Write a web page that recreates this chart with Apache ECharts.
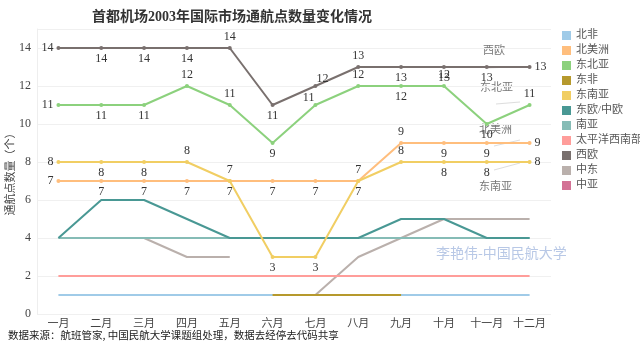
<!DOCTYPE html>
<html>
<head>
<meta charset="utf-8">
<script src="https://cdn.jsdelivr.net/npm/echarts@6/dist/echarts.min.js"></script>
<style>
  html, body { margin: 0; padding: 0; background: #fff; }
  #main { width: 640px; height: 352px; }
</style>
</head>
<body>
<div id="main"></div>
<script>
// 月份
var months = ['一月', '二月', '三月', '四月', '五月', '六月', '七月', '八月', '九月', '十月', '十一月', '十二月'];
var legendNames = ['北非', '北美洲', '东北亚', '东非', '东南亚', '东欧/中欧', '南亚', '太平洋西南部', '西欧', '中东', '中亚'];

// 各区域通航点数量
var xiou = [14, 14, 14, 14, 14, 11, 12, 13, 13, 13, 13, 13];
var dongbeiya = [11, 11, 11, 12, 11, 9, 11, 12, 12, 12, 10, 11];
var beimeizhou = [7, 7, 7, 7, 7, 7, 7, 7, 9, 9, 9, 9];
var dongnanya = [8, 8, 8, 8, 7, 3, 3, 7, 8, 8, 8, 8];
var dongou = [4, 6, 6, 5, 4, 4, 4, 4, 5, 5, 4, 4];
var nanya = [4, 4, 4, 4, 4, 4, 4, 4, 4, 4, 4, 4];
var zhongdong = [null, null, 4, 3, 3, null, 1, 3, 4, 5, 5, 5];
var dongfei = [null, null, null, null, null, 1, 1, 1, 1, null, null, null];
var beifei = [1, 1, 1, 1, 1, 1, 1, 1, 1, 1, 1, 1];
var taipingyang = [2, 2, 2, 2, 2, 2, 2, 2, 2, 2, 2, 2];
var zhongya = [];

var colors = {
  '北非': '#a0cbe8', '北美洲': '#ffbe7d', '东北亚': '#8cd17d', '东非': '#b6992d',
  '东南亚': '#f1ce63', '东欧/中欧': '#499894', '南亚': '#86bcb6', '太平洋西南部': '#ff9d9a',
  '西欧': '#79706e', '中东': '#bab0ac', '中亚': '#d37295'
};

// 数字标签的位置（样式，不是数据）
var labelPos = {
  '西欧': ['left', 'bottom', 'bottom', 'bottom', 'top', 'bottom', 'insideBottomLeft', 'top', 'bottom', 'bottom', 'bottom', 'right'],
  '东北亚': ['left', 'bottom', 'bottom', 'top', 'top', 'bottom', 'insideBottomRight', 'top', 'bottom', 'top', 'bottom', 'top'],
  '北美洲': ['left', 'bottom', 'bottom', 'bottom', 'bottom', 'bottom', 'bottom', 'top', 'top', 'bottom', 'bottom', 'right'],
  '东南亚': ['left', 'bottom', 'bottom', 'top', 'top', 'bottom', 'bottom', 'bottom', 'top', 'bottom', 'bottom', 'right']
};

function makeSeries(name, values, z) {
  var pos = labelPos[name];
  var data = values.map(function (v, i) {
    if (!pos || v == null) return v;
    return { value: v, label: { show: true, position: pos[i] } };
  });
  return {
    name: name,
    type: 'line',
    data: data,
    z: z,
    symbol: 'circle',
    symbolSize: pos ? 4 : 0,
    showSymbol: !!pos,
    connectNulls: false,
    lineStyle: { width: 2, color: colors[name] },
    itemStyle: { color: colors[name] },
    label: {
      show: false,
      fontFamily: 'Liberation Serif',
      fontSize: 12,
      color: '#333',
      distance: 3
    },
    emphasis: { disabled: true }
  };
}

var chart = echarts.init(document.getElementById('main'));

var option = {
  animation: false,
  backgroundColor: '#fff',
  color: legendNames.map(function (n) { return colors[n]; }),
  title: {
    text: '首都机场2003年国际市场通航点数量变化情况',
    left: 87,
    top: 5,
    textStyle: {
      fontFamily: 'Liberation Serif, Noto Sans CJK SC',
      fontSize: 14,
      fontWeight: 'bold',
      color: '#333'
    }
  },
  legend: {
    data: legendNames,
    orient: 'vertical',
    left: 557,
    top: 25,
    itemWidth: 9,
    itemHeight: 9,
    itemGap: 4,
    icon: 'rect',
    textStyle: { fontFamily: 'Liberation Serif, Noto Sans CJK SC', fontSize: 11, lineHeight: 11, color: '#555' }
  },
  grid: { left: 37, right: 89, top: 29, bottom: 38, containLabel: false, outerBoundsMode: 'none' },
  xAxis: {
    type: 'category',
    data: months,
    boundaryGap: true,
    axisLine: { show: false },
    axisTick: { show: false },
    axisLabel: { fontFamily: 'Liberation Serif, Noto Sans CJK SC', fontSize: 11, color: '#444', margin: 5, interval: 0 }
  },
  yAxis: {
    type: 'value',
    min: 0,
    max: 15,
    interval: 2,
    name: '通航点数量（个）',
    nameLocation: 'middle',
    nameGap: 22,
    nameMoveOverlap: false,
    nameTextStyle: { fontFamily: 'Noto Sans CJK SC', fontSize: 11, color: '#444' },
    axisLine: { show: true, lineStyle: { color: '#eeeeee' } },
    axisTick: { show: false },
    axisLabel: { fontFamily: 'Liberation Serif', fontSize: 12, color: '#444', margin: 6, showMaxLabel: false },
    splitLine: { lineStyle: { color: '#f0f0f0' } }
  },
  graphic: [
    { type: 'text', left: 436, top: 246, style: { text: '李艳伟-中国民航大学', fontFamily: 'Noto Sans CJK SC', fontSize: 14, fill: '#b8c8e6' } },
    { type: 'text', left: 483, top: 44, style: { text: '西欧', fontFamily: 'Noto Sans CJK SC', fontSize: 11, fill: '#777' } },
    { type: 'text', left: 480, top: 81, style: { text: '东北亚', fontFamily: 'Noto Sans CJK SC', fontSize: 11, fill: '#777' } },
    { type: 'text', left: 479, top: 123, style: { text: '北美洲', fontFamily: 'Noto Sans CJK SC', fontSize: 11, fill: '#777' } },
    { type: 'text', left: 479, top: 180, style: { text: '东南亚', fontFamily: 'Noto Sans CJK SC', fontSize: 11, fill: '#777' } },
    { type: 'line', shape: { x1: 488, y1: 68, x2: 510, y2: 67 }, style: { stroke: '#ddd', lineWidth: 1 } },
    { type: 'line', shape: { x1: 496, y1: 104, x2: 520, y2: 102 }, style: { stroke: '#ddd', lineWidth: 1 } },
    { type: 'line', shape: { x1: 494, y1: 146, x2: 520, y2: 140 }, style: { stroke: '#ddd', lineWidth: 1 } },
    { type: 'line', shape: { x1: 494, y1: 170, x2: 520, y2: 163 }, style: { stroke: '#ddd', lineWidth: 1 } },
    { type: 'text', left: 8, top: 330, style: { text: '数据来源：航班管家, 中国民航大学课题组处理，数据去经停去代码共享', fontFamily: 'Noto Sans CJK SC', fontSize: 10.5, fill: '#222' } }
  ],
  series: [
    makeSeries('中亚', zhongya, 1),
    makeSeries('中东', zhongdong, 2),
    makeSeries('南亚', nanya, 3),
    makeSeries('北非', beifei, 4),
    makeSeries('太平洋西南部', taipingyang, 5),
    makeSeries('东非', dongfei, 6),
    makeSeries('东欧/中欧', dongou, 7),
    makeSeries('北美洲', beimeizhou, 8),
    makeSeries('东南亚', dongnanya, 9),
    makeSeries('东北亚', dongbeiya, 10),
    makeSeries('西欧', xiou, 11)
  ]
};

chart.setOption(option);
</script>
</body>
</html>
